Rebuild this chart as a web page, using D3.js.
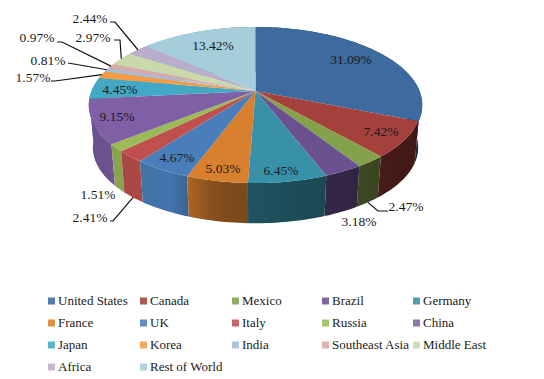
<!DOCTYPE html>
<html lang="en">
<head>
    <meta charset="UTF-8">
    <title>Share by country</title>
    <script src="https://cdnjs.cloudflare.com/ajax/libs/d3/7.8.5/d3.min.js"></script>
    <style>
        html, body { margin: 0; background: #fff; }
        text { font-family: "Liberation Serif", serif; fill: #1a1a1a; }
    </style>
</head>
<body>
<script>
    var categories = ["United States", "Canada", "Mexico", "Brazil", "Germany", "France", "UK", "Italy", "Russia",
        "China", "Japan", "Korea", "India", "Southeast Asia", "Middle East", "Africa", "Rest of World"];
    var values = [31.09, 7.42, 2.47, 3.18, 6.45, 5.03, 4.67, 2.41, 1.51, 9.15, 4.45, 1.57, 0.81, 0.97, 2.97, 2.44, 13.42];
    var colors = ["#3d6a9f", "#a5413d", "#84a14b", "#6b5190", "#3891a8", "#d9802f", "#4a7ebb", "#c0504d", "#9bbb59",
        "#7f5fa6", "#43a8c4", "#f59a45", "#a9bbd8", "#dba9a7", "#c9d9ab", "#baaccb", "#a5cddc"];

    // label centres, picked by eye
    var labelX = [351, 381, 406, 359, 281, 223, 177, 90, 98, 117, 120, 33, 48, 37, 93, 90, 213];
    var labelY = [60, 132, 207, 222, 171, 169, 158, 218, 195, 117, 90, 78, 61, 38, 38, 19, 46];

    // leader lines: slice index, which rim, and the text side elbow
    var leaders = [
        { i: 2, rim: "bottom", pts: [[388, 211], [378, 211]] },
        { i: 7, rim: "bottom", pts: [[110, 221], [113, 221]] },
        { i: 11, rim: "top", pts: [[51, 81], [55, 81]] },
        { i: 12, rim: "top", pts: [[68, 63]] },
        { i: 13, rim: "top", pts: [[57, 42], [62, 42]] },
        { i: 14, rim: "top", pts: [[114, 40], [120, 40]] },
        { i: 15, rim: "top", pts: [[110, 22], [115, 22]] }
    ];

    var legendX = [48, 140, 232, 322, 413],
        legendY = [301, 323, 345, 367];

    var width = 544,
        height = 379,
        cx = 255.5,
        k = 0.18, // perspective
        upper = { cy: 91, a: 164, b: 75.5 },
        lower = { cy: 134, a: 160, b: 73.2 };

    var svg = d3.select("body").append("svg")
        .attr("width", width)
        .attr("height", height)
        .style("display", "block");

    var defs = svg.append("defs");

    var color = d3.scaleOrdinal().domain(categories).range(colors);

    // how dark the wall gets from left to right
    var shade = d3.scaleLinear()
        .domain([88, 170, 215, 300, 422])
        .range([0.85, 0.92, 0.6, 0.52, 0.38]);

    var slices = d3.pie().sort(null).value(function (d) { return d; })(values);

    function project(angle, disc) {
        var u = Math.sin(angle),
            v = -Math.cos(angle),
            w = 1 - k * v;
        return [cx + disc.a * u / w, disc.cy + disc.b * v / w];
    }

    function arcPoints(s, disc) {
        var n = Math.max(2, Math.ceil((s.endAngle - s.startAngle) * 40));
        return d3.range(n + 1).map(function (j) {
            return project(s.startAngle + (s.endAngle - s.startAngle) * j / n, disc);
        });
    }

    var line = d3.line();

    // walls first, back to front
    var walls = slices.map(function (s, i) {
        var t = arcPoints(s, upper),
            b = arcPoints(s, lower);
        return { i: i, pts: t.concat(b.reverse()), y: d3.max(t, function (p) { return p[1]; }) };
    }).sort(function (p, q) { return p.y - q.y; });

    walls.forEach(function (w) {
        var c = colors[w.i],
            ext = d3.extent(w.pts, function (p) { return p[0]; }),
            id = "wall" + w.i,
            grad = defs.append("linearGradient").attr("id", id)
                .attr("gradientUnits", "userSpaceOnUse")
                .attr("x1", ext[0]).attr("x2", ext[1]).attr("y1", 0).attr("y2", 0);
        d3.range(6).forEach(function (j) {
            var x = ext[0] + (ext[1] - ext[0]) * j / 5;
            grad.append("stop").attr("offset", j / 5)
                .attr("stop-color", d3.interpolateRgb("#000", c)(shade(x)));
        });
        svg.append("path")
            .attr("d", line(w.pts) + "Z")
            .attr("fill", "url(#" + id + ")");
    });

    // top faces
    svg.append("g").selectAll("path")
        .data(slices)
        .join("path")
        .attr("d", function (s) {
            return line([[cx, upper.cy]].concat(arcPoints(s, upper))) + "Z";
        })
        .attr("fill", function (s, i) { return color(categories[i]); });

    // leaders
    leaders.forEach(function (l) {
        var s = slices[l.i],
            mid = (s.startAngle + s.endAngle) / 2,
            end = project(mid, l.rim === "bottom" ? lower : upper);
        svg.append("path")
            .attr("d", line(l.pts.concat([end])))
            .attr("fill", "none")
            .attr("stroke", "#111")
            .attr("stroke-width", 1.2);
    });

    // value labels
    svg.append("g").selectAll("text")
        .data(values)
        .join("text")
        .attr("x", function (d, i) { return labelX[i]; })
        .attr("y", function (d, i) { return labelY[i]; })
        .attr("dy", "0.33em")
        .attr("text-anchor", "middle")
        .attr("font-size", 13.5)
        .text(function (d) { return d.toFixed(2) + "%"; });

    // legend
    var legend = svg.append("g").selectAll("g")
        .data(categories)
        .join("g")
        .attr("transform", function (d, i) {
            return "translate(" + legendX[i % 5] + "," + legendY[Math.floor(i / 5)] + ")";
        });

    legend.append("rect")
        .attr("y", -3.5)
        .attr("width", 7)
        .attr("height", 7)
        .attr("fill", function (d) { return color(d); })
        .attr("fill-opacity", 0.88);

    legend.append("text")
        .attr("x", 10)
        .attr("dy", "0.33em")
        .attr("font-size", 13)
        .text(function (d) { return d; });
</script>
</body>
</html>
